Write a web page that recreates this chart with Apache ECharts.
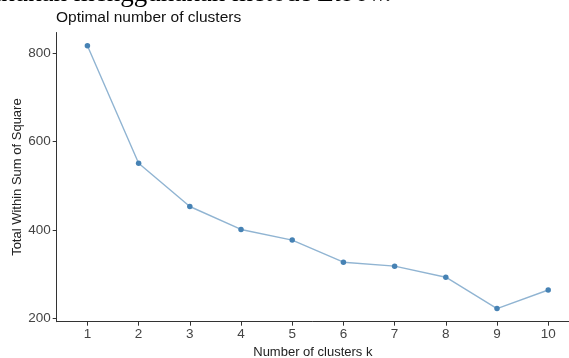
<!DOCTYPE html>
<html>
<head>
<meta charset="utf-8">
<script src="https://cdn.jsdelivr.net/npm/echarts@6/dist/echarts.min.js"></script>
<style>html,body{margin:0;padding:0;background:#fff;}#c{width:569px;height:358px;}</style>
</head>
<body>
<div id="c"></div>
<script>
const clusters = [1, 2, 3, 4, 5, 6, 7, 8, 9, 10];
const wss = [817, 551, 453, 401, 377, 327, 318, 293, 222, 264];
const yTicks = [200, 400, 600, 800];
const chartTitle = 'Optimal number of clusters';
const xTitle = 'Number of clusters k';
const yTitle = 'Total Within Sum of Square';

const chart = echarts.init(document.getElementById('c'), null, {renderer: 'canvas'});
const font = 'Liberation Sans, Arial, sans-serif';
chart.setOption({
  animation: false,
  backgroundColor: '#fff',
  title: {
    text: chartTitle, left: 56, top: 10, padding: 0,
    textStyle: {fontFamily: font, fontSize: 15.5, fontWeight: 'normal', color: '#111'}
  },
  graphic: [{
    type: 'text', x: 392, y: -6,
    style: {
      text: 'dilakukan menggunakan metode {i|Elbow.}',
      font: '27px "Liberation Serif", serif',
      fill: '#000', align: 'right', verticalAlign: 'middle',
      rich: {i: {fontStyle: 'italic', fontFamily: 'Liberation Serif', fontSize: 27}}
    }
  }],
  grid: {left: 56.7, top: 32.5, right: 0, bottom: 36.3, outerBoundsMode: 'none', containLabel: false},
  xAxis: {
    type: 'value', min: 0.4, max: 10.406,
    name: xTitle, nameLocation: 'middle', nameGap: 24, nameMoveOverlap: false,
    nameTextStyle: {fontFamily: font, fontSize: 13, color: '#222'},
    axisLine: {show: true, lineStyle: {color: '#333', width: 1}},
    axisTick: {show: true, length: 4, customValues: clusters, lineStyle: {color: '#333'}},
    axisLabel: {customValues: clusters, fontFamily: font, fontSize: 13.5, color: '#444', margin: 6},
    splitLine: {show: false}
  },
  yAxis: {
    type: 'value', min: 192.3, max: 846.8,
    name: yTitle, nameLocation: 'middle', nameGap: 33, nameMoveOverlap: false,
    nameTextStyle: {fontFamily: font, fontSize: 13, color: '#222'},
    axisLine: {show: true, lineStyle: {color: '#333', width: 1}},
    axisTick: {show: true, length: 4, customValues: yTicks, lineStyle: {color: '#333'}},
    axisLabel: {customValues: yTicks, fontFamily: font, fontSize: 13.5, color: '#444', margin: 6},
    splitLine: {show: false}
  },
  series: [{
    type: 'line',
    data: clusters.map((k, i) => [k, wss[i]]),
    symbol: 'circle', symbolSize: 5.5,
    itemStyle: {color: '#4682B4'},
    lineStyle: {color: '#4682B4', width: 1.4, opacity: 0.6}
  }]
});
</script>
</body>
</html>
